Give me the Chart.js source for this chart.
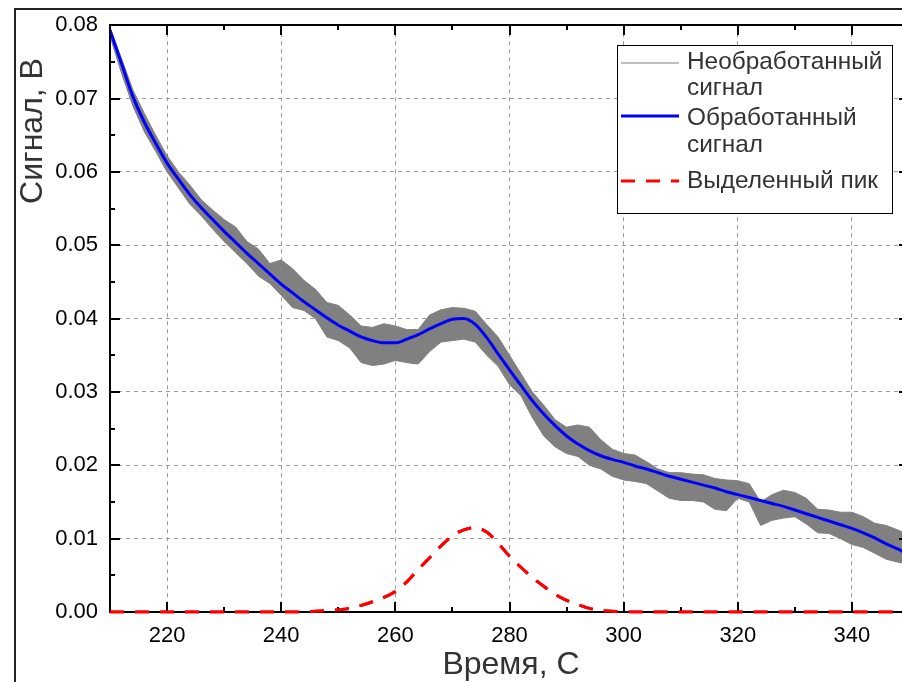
<!DOCTYPE html>
<html><head><meta charset="utf-8">
<script src="https://cdn.jsdelivr.net/npm/chart.js@4/dist/chart.umd.min.js"></script>
<style>html,body{margin:0;padding:0;overflow:hidden;background:#fff;width:902px;height:682px}canvas{display:block}</style>
</head><body><canvas id="c" width="912" height="682"></canvas>
<script>
const times = [210,212,214,216,218,220,222,224,226,228,230,232,234,236,238,240,242,244,246,248,250,252,254,256,258,260,262,264,266,268,270,272,274,276,278,280,282,284,286,288,290,292,294,296,298,300,302,304,306,308,310,312,314,316,318,320,322,324,326,328,330,332,334,336,338,340,342,344,346,348,350];
const rawUpper = [0.0797,0.0755,0.0712,0.0680,0.0650,0.0622,0.0600,0.0582,0.0562,0.0548,0.0535,0.0525,0.0505,0.0495,0.0475,0.0480,0.0468,0.0452,0.0440,0.0422,0.0418,0.0405,0.0390,0.0388,0.0393,0.0390,0.0385,0.0385,0.0405,0.0412,0.0415,0.0414,0.0410,0.0392,0.0375,0.0350,0.0325,0.0300,0.0282,0.0262,0.0252,0.0255,0.0252,0.0235,0.0222,0.0216,0.0214,0.0205,0.0195,0.0190,0.0190,0.0188,0.0187,0.0182,0.0180,0.0179,0.0175,0.0150,0.0160,0.0166,0.0163,0.0155,0.0140,0.0139,0.0136,0.0136,0.0130,0.0121,0.0118,0.0112,0.0105];
const rawLower = [0.0785,0.0735,0.0690,0.0655,0.0628,0.0600,0.0578,0.0556,0.0540,0.0522,0.0505,0.0490,0.0475,0.0458,0.0448,0.0432,0.0415,0.0411,0.0400,0.0375,0.0370,0.0360,0.0340,0.0336,0.0338,0.0343,0.0340,0.0338,0.0355,0.0368,0.0370,0.0372,0.0368,0.0350,0.0335,0.0310,0.0295,0.0265,0.0240,0.0225,0.0216,0.0212,0.0200,0.0195,0.0185,0.0180,0.0178,0.0175,0.0165,0.0155,0.0152,0.0152,0.0150,0.0140,0.0138,0.0155,0.0150,0.0118,0.0125,0.0128,0.0130,0.0120,0.0108,0.0107,0.0100,0.0092,0.0088,0.0080,0.0072,0.0068,0.0065];
const smoothed = [0.0793,0.0748,0.0703,0.0668,0.0639,0.0612,0.0590,0.0569,0.0551,0.0535,0.0519,0.0504,0.0489,0.0475,0.0461,0.0447,0.0435,0.0423,0.0412,0.0401,0.0391,0.0383,0.0375,0.0370,0.0367,0.0367,0.0372,0.0378,0.0386,0.0393,0.0399,0.0400,0.0392,0.0374,0.0352,0.0330,0.0309,0.0288,0.0270,0.0254,0.0240,0.0229,0.0220,0.0213,0.0208,0.0204,0.0199,0.0195,0.0190,0.0185,0.0181,0.0177,0.0173,0.0169,0.0164,0.0160,0.0156,0.0152,0.0148,0.0144,0.0139,0.0134,0.0129,0.0124,0.0119,0.0114,0.0108,0.0101,0.0093,0.0086,0.0078];
const peak = [0,0,0,0,0,0,0,0,0,0,0,0,0,0,0,0,0,0,0.0001,0.0002,0.0003,0.0005,0.0009,0.0014,0.0020,0.0028,0.0041,0.0058,0.0074,0.0090,0.0104,0.0112,0.0115,0.0109,0.0094,0.0076,0.0061,0.0047,0.0035,0.0024,0.0016,0.0010,0.0005,0.0002,0.0001,0,0,0,0,0,0,0,0,0,0,0,0,0,0,0,0,0,0,0,0,0,0,0,0,0,0];
const xTicks = [220,240,260,280,300,320,340];
const xMinorTicks = [230,250,270,290,310,330,350];
const yTicks = [0,0.01,0.02,0.03,0.04,0.05,0.06,0.07,0.08];
const yMinorTicks = [0.005,0.015,0.025,0.035,0.045,0.055,0.065,0.075];
const seriesNames = ['Необработанный сигнал','Обработанный сигнал','Выделенный пик'];
const legendLines = [['Необработанный','сигнал'],['Обработанный','сигнал'],['Выделенный пик']];
const xTitle = 'Время, С';
const yTitle = 'Сигнал, В';

const FONT = '"Liberation Sans", Arial, sans-serif';
const pts = ys => times.map((t,i)=>({x:t,y:ys[i]}));

function line(ctx,x1,y1,x2,y2){ctx.beginPath();ctx.moveTo(x1,y1);ctx.lineTo(x2,y2);ctx.stroke();}

const deco = {
  id:'deco',
  afterDraw(chart){
    const ctx = chart.ctx;
    const a = chart.chartArea;
    const xs = chart.scales.x, ys = chart.scales.y;
    const L = Math.round(a.left), R = Math.round(a.right), T = Math.round(a.top), B = Math.round(a.bottom);
    ctx.save();
    ctx.setLineDash([]);
    ctx.globalAlpha = 1;
    ctx.globalCompositeOperation = 'source-over';
    ctx.strokeStyle = '#000000';
    ctx.lineWidth = 2;
    line(ctx,L,T,R,T); line(ctx,L,B,R,B); line(ctx,L,T-1,L,B+1); line(ctx,R,T-1,R,B+1);
    for (const v of xTicks){const p=Math.round(xs.getPixelForValue(v)); line(ctx,p,B,p,B-10); line(ctx,p,T,p,T+10);}
    for (const v of xMinorTicks){const p=Math.round(xs.getPixelForValue(v)); line(ctx,p,B,p,B-5); line(ctx,p,T,p,T+5);}
    for (const v of yTicks){const p=Math.round(ys.getPixelForValue(v)); line(ctx,L,p,L+10,p); line(ctx,R,p,R-10,p);}
    for (const v of yMinorTicks){const p=Math.round(ys.getPixelForValue(v)); line(ctx,L,p,L+5,p); line(ctx,R,p,R-5,p);}
    ctx.restore();
    // peak line on top of the frame
    const meta = chart.getDatasetMeta(3);
    if (meta && meta.dataset) {
      ctx.save();
      ctx.beginPath();
      ctx.rect(a.left, a.top - 2, a.right - a.left, a.bottom - a.top + 4);
      ctx.clip();
      meta.dataset.draw(ctx, a);
      ctx.restore();
    }
    ctx.save();
    ctx.setLineDash([]);
    ctx.strokeStyle='#222'; ctx.lineWidth=2;
    ctx.beginPath(); ctx.moveTo(15,690); ctx.lineTo(15,9); ctx.lineTo(920,9); ctx.stroke();
    ctx.fillStyle='#333';
    ctx.font='32px '+FONT;
    ctx.textAlign='center'; ctx.textBaseline='alphabetic';
    ctx.fillText(xTitle,511,674);
    ctx.save(); ctx.translate(42,131); ctx.rotate(-Math.PI/2); ctx.fillText(yTitle,0,0); ctx.restore();
    ctx.fillStyle='#fff'; ctx.fillRect(617,45,275,168);
    ctx.strokeStyle='#000'; ctx.lineWidth=1; ctx.strokeRect(617.5,45.5,275,168);
    ctx.font='24.4px '+FONT; ctx.fillStyle='#333'; ctx.textAlign='left';
    const ds = chart.data.datasets;
    const items = [
      {ds:ds[1], ly:63, base:[69,95]},
      {ds:ds[2], ly:116, base:[125,152]},
      {ds:ds[3], ly:181, base:[188]}
    ];
    items.forEach((it,i)=>{
      ctx.save();
      ctx.strokeStyle=it.ds.borderColor; ctx.lineWidth=it.ds.borderWidth;
      ctx.setLineDash(it.ds.borderDash||[]);
      ctx.beginPath(); ctx.moveTo(621,it.ly); ctx.lineTo(679,it.ly); ctx.stroke();
      ctx.restore();
      legendLines[i].forEach((t,j)=>ctx.fillText(t,687,it.base[j]));
    });
    ctx.restore();
  }
};

new Chart(document.getElementById('c'),{
  type:'line',
  data:{datasets:[
    {label:seriesNames[0]+' (min)', data:pts(rawLower), borderColor:'#808080', borderWidth:1, pointRadius:0, fill:false, tension:0, order:3},
    {label:seriesNames[0], data:pts(rawUpper), borderColor:'#808080', borderWidth:1, backgroundColor:'#808080', fill:'-1', pointRadius:0, tension:0, order:2},
    {label:seriesNames[1], data:pts(smoothed), borderColor:'#0000ff', borderWidth:3, pointRadius:0, cubicInterpolationMode:'monotone', fill:false, order:1},
    {label:seriesNames[2], data:pts(peak), borderColor:'#ff0000', borderWidth:3, borderDash:[14,11], pointRadius:0, cubicInterpolationMode:'monotone', fill:false, order:0}
  ]},
  options:{
    responsive:false, animation:false, devicePixelRatio:1,
    layout:{padding:{top:24,right:3,left:0,bottom:0}},
    plugins:{legend:{display:false}, tooltip:{enabled:false}},
    scales:{
      x:{type:'linear', min:210, max:350,
        afterBuildTicks:s=>{s.ticks=xTicks.map(v=>({value:v}));},
        afterFit:s=>{s.height=70;},
        ticks:{font:{size:22,family:FONT}, color:'#000', padding:11, maxRotation:0, autoSkip:false},
        grid:{color:'#9a9a9a', lineWidth:1, drawTicks:false},
        border:{display:false, dash:[4,4]}
      },
      y:{type:'linear', min:0, max:0.08,
        afterBuildTicks:s=>{s.ticks=yTicks.map(v=>({value:v}));},
        afterFit:s=>{s.width=110;},
        ticks:{font:{size:22,family:FONT}, color:'#000', padding:12, callback:v=>Number(v).toFixed(2)},
        grid:{color:'#9a9a9a', lineWidth:1, drawTicks:false},
        border:{display:false, dash:[4,4]}
      }
    }
  },
  plugins:[deco]
});
</script>
</body></html>
